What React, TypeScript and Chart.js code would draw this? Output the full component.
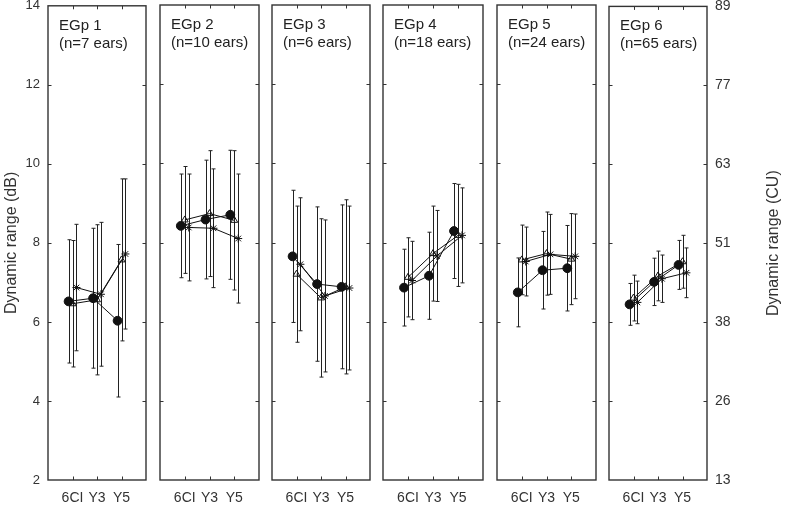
import React, { useEffect, useRef } from "react";
import { Chart, registerables } from "chart.js";
Chart.register(...registerables);

// ---------- data ----------
const categories = ["6CI", "Y3", "Y5"];
const groupLabels = ["EGp 1", "EGp 2", "EGp 3", "EGp 4", "EGp 5", "EGp 6"];
const earCounts = [7, 10, 6, 18, 24, 65];
const dbTicks = [2, 4, 6, 8, 10, 12, 14];
const cuTickLabels = [13, 26, 38, 51, 63, 77, 89];

const circleMean = [
  [6.52, 6.6, 6.03],
  [8.42, 8.58, 8.7],
  [7.65, 6.95, 6.88],
  [6.86, 7.16, 8.29],
  [6.74, 7.3, 7.35],
  [6.45, 7.02, 7.45],
];
const circleSd = [
  [1.56, 1.77, 1.93],
  [1.31, 1.5, 1.63],
  [1.67, 1.95, 2.07],
  [0.97, 1.1, 1.2],
  [0.87, 0.98, 1.08],
  [0.53, 0.6, 0.62],
];
const triangleMean = [
  [6.46, 6.56, 7.57],
  [8.57, 8.73, 8.56],
  [7.2, 6.6, 6.88],
  [7.12, 7.72, 8.18],
  [7.56, 7.72, 7.58],
  [6.61, 7.17, 7.53],
];
const triangleSd = [
  [1.6, 1.9, 2.05],
  [1.35, 1.59, 1.76],
  [1.72, 2.0, 2.2],
  [1.0, 1.2, 1.29],
  [0.88, 1.05, 1.15],
  [0.58, 0.63, 0.67],
];
const starMean = [
  [6.87, 6.7, 7.72],
  [8.38, 8.36, 8.1],
  [7.45, 6.65, 6.85],
  [7.04, 7.66, 8.18],
  [7.52, 7.7, 7.65],
  [6.5, 7.1, 7.25],
];
const starSd = [
  [1.6, 1.82, 1.9],
  [1.35, 1.5, 1.63],
  [1.68, 1.92, 2.07],
  [0.99, 1.15, 1.2],
  [0.87, 1.01, 1.07],
  [0.54, 0.6, 0.63],
];

// ---------- layout ----------
const panelLefts = [48, 160, 272, 383, 497, 609];
const panelRights = [146, 259, 370, 483, 596, 707];
const PAD = 6;
const TOP_SHIFT = 10;
const FONT = "'Liberation Sans', Arial, Helvetica, sans-serif";
const seriesOffsets = [-0.16, 0, 0.16];

const decorPlugin = {
  id: "panelDecor",
  beforeDatasetsDraw(chart: any) {
    const { ctx, scales } = chart;
    const x = scales.x;
    const y = scales.y;
    ctx.save();
    ctx.strokeStyle = "#222";
    ctx.lineWidth = 1;
    chart.data.datasets.forEach((ds: any) => {
      ds.data.forEach((p: any, i: number) => {
        const e = ds.errors[i];
        const px = Math.round(x.getPixelForValue(p.x)) + 0.5;
        const top = y.getPixelForValue(p.y + e);
        const bot = y.getPixelForValue(p.y - e);
        ctx.beginPath();
        ctx.moveTo(px, top);
        ctx.lineTo(px, bot);
        ctx.moveTo(px - 2, top);
        ctx.lineTo(px + 2, top);
        ctx.moveTo(px - 2, bot);
        ctx.lineTo(px + 2, bot);
        ctx.stroke();
      });
    });
    ctx.restore();
  },
  afterDraw(chart: any, _args: any, opts: any) {
    const { ctx, chartArea: a, scales } = chart;
    const x = scales.x;
    const y = scales.y;
    ctx.save();
    // ticks inside
    ctx.strokeStyle = "#333";
    ctx.lineWidth = 1;
    const tl = 3.5;
    ctx.beginPath();
    [0, 1, 2].forEach((v) => {
      const px = Math.round(x.getPixelForValue(v)) + 0.5;
      ctx.moveTo(px, a.bottom);
      ctx.lineTo(px, a.bottom - tl);
      ctx.moveTo(px, a.top);
      ctx.lineTo(px, a.top + tl);
    });
    dbTicks.slice(1, -1).forEach((v) => {
      const py = Math.round(y.getPixelForValue(v)) + 0.5;
      ctx.moveTo(a.left, py);
      ctx.lineTo(a.left + tl, py);
      ctx.moveTo(a.right, py);
      ctx.lineTo(a.right - tl, py);
    });
    ctx.stroke();
    // border
    ctx.strokeStyle = "#333";
    ctx.lineWidth = 1.4;
    ctx.strokeRect(a.left, a.top, a.right - a.left, a.bottom - a.top);
    // panel titles
    ctx.fillStyle = "#222";
    ctx.font = `15px ${FONT}`;
    ctx.textAlign = "left";
    ctx.textBaseline = "alphabetic";
    ctx.fillText(opts.title, a.left + 11, a.top + 24);
    ctx.fillText(opts.subtitle, a.left + 11, a.top + 42);
    // axis titles
    const midY = (a.top + a.bottom) / 2;
    ctx.fillStyle = "#333";
    ctx.font = `16px ${FONT}`;
    ctx.textAlign = "center";
    ctx.textBaseline = "middle";
    if (opts.leftTitle) {
      ctx.save();
      ctx.translate(opts.leftTitleX, midY);
      ctx.rotate(-Math.PI / 2);
      ctx.fillText(opts.leftTitle, 0, 0);
      ctx.restore();
    }
    if (opts.rightTitle) {
      ctx.save();
      ctx.translate(opts.rightTitleX, midY);
      ctx.rotate(-Math.PI / 2);
      ctx.fillText(opts.rightTitle, 0, 0);
      ctx.restore();
    }
    ctx.restore();
  },
};

function Panel({ index }: { index: number }) {
  const ref = useRef<HTMLCanvasElement>(null);
  const isFirst = index === 0;
  const isLast = index === groupLabels.length - 1;
  const canvasLeft = isFirst ? 0 : panelLefts[index] - PAD;
  const canvasRight = isLast ? 800 : panelRights[index] + PAD;
  const width = canvasRight - canvasLeft;
  const height = 530 + TOP_SHIFT;

  useEffect(() => {
    if (!ref.current) return;
    const mk = (means: number[][], sds: number[][], s: number, style: any) => ({
      data: means[index].map((m, i) => ({ x: i + seriesOffsets[s], y: m })),
      errors: sds[index],
      borderColor: "#111",
      borderWidth: 1,
      pointBorderColor: "#111",
      pointBorderWidth: 1,
      tension: 0,
      fill: false,
      ...style,
    });
    const datasets: any[] = [
      mk(circleMean, circleSd, 0, { pointStyle: "circle", pointRadius: 4.4, pointBackgroundColor: "#111" }),
      mk(triangleMean, triangleSd, 1, { pointStyle: "triangle", pointRadius: 4, pointBackgroundColor: "rgba(255,255,255,0)" }),
      mk(starMean, starSd, 2, { pointStyle: "star", pointRadius: 4, pointBackgroundColor: "rgba(255,255,255,0)" }),
    ];
    const tickFont = { family: FONT, size: 13 };
    const yScale: any = {
      type: "linear",
      min: 2,
      max: 14,
      display: isFirst,
      afterBuildTicks: (s: any) => {
        s.ticks = dbTicks.map((v) => ({ value: v }));
      },
      ticks: { padding: 8, color: "#333", font: tickFont },
      grid: { display: false, drawTicks: false },
      border: { display: false },
    };
    if (isFirst) {
      yScale.afterFit = (s: any) => {
        s.width = panelLefts[0];
      };
    }
    const scales: any = {
      x: {
        type: "linear",
        min: -1,
        max: 3,
        afterBuildTicks: (s: any) => {
          s.ticks = categories.map((_, i) => ({ value: i }));
        },
        ticks: {
          autoSkip: false,
          maxRotation: 0,
          padding: 10,
          color: "#333",
          font: { family: FONT, size: 14 },
          callback: (v: any) => categories[v] ?? "",
        },
        grid: { display: false, drawTicks: false },
        border: { display: false },
        afterFit: (s: any) => {
          s.height = 50;
        },
      },
      y: yScale,
    };
    if (isLast) {
      scales.y2 = {
        type: "linear",
        position: "right",
        min: 2,
        max: 14,
        afterBuildTicks: (s: any) => {
          s.ticks = dbTicks.map((v) => ({ value: v }));
        },
        ticks: {
          padding: 8,
          color: "#333",
          font: { family: FONT, size: 14 },
          callback: (v: any) => String(cuTickLabels[dbTicks.indexOf(v)]),
        },
        grid: { display: false, drawTicks: false },
        border: { display: false },
        afterFit: (s: any) => {
          s.width = 800 - panelRights[index];
        },
      };
    }
    const chart = new Chart(ref.current, {
      type: "line",
      data: { datasets },
      options: {
        animation: false,
        responsive: true,
        maintainAspectRatio: false,
        layout: {
          padding: { left: isFirst ? 0 : PAD, right: isLast ? 0 : PAD, top: 5 + TOP_SHIFT, bottom: 0 },
        },
        plugins: {
          legend: { display: false },
          tooltip: { enabled: false },
          panelDecor: {
            title: groupLabels[index],
            subtitle: `(n=${earCounts[index]} ears)`,
            leftTitle: isFirst ? "Dynamic range (dB)" : "",
            leftTitleX: 12,
            rightTitle: isLast ? "Dynamic range (CU)" : "",
            rightTitleX: 774 - canvasLeft,
          },
        } as any,
        scales,
      },
      plugins: [decorPlugin],
    } as any);
    return () => chart.destroy();
  }, [index]);

  return (
    <div style={{ position: "absolute", left: canvasLeft, top: -TOP_SHIFT, width, height }}>
      <canvas ref={ref} />
    </div>
  );
}

export default function App() {
  return (
    <div style={{ position: "absolute", left: 0, top: 0, width: 800, height: 530, background: "#fff", overflow: "hidden" }}>
      {groupLabels.map((_, i) => (
        <Panel key={i} index={i} />
      ))}
    </div>
  );
}
